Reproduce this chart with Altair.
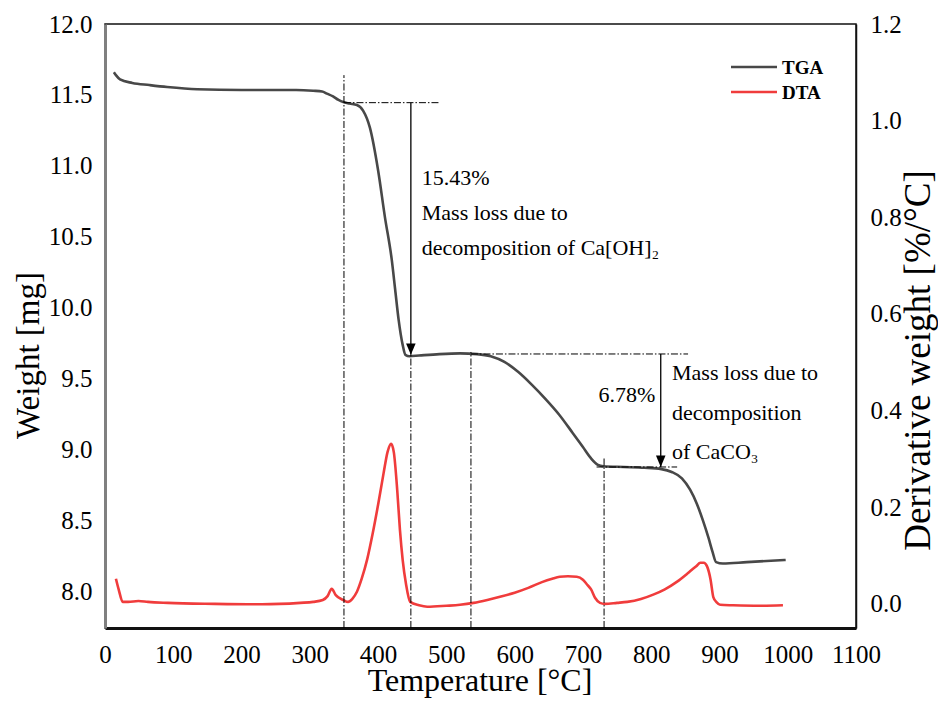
import altair as alt
import pandas as pd

# ---------------- data ----------------
tga_T = [13, 16, 22, 40, 65, 91, 135, 200, 237, 280, 305, 318, 325, 334, 342, 349, 358, 369,
         378, 388, 400, 410, 420, 425, 430, 436, 440, 446, 460, 490, 520, 545, 565, 585, 605,
         625, 645, 665, 685, 700, 712, 722, 730, 760, 790, 815, 830, 845, 857, 867, 876, 884,
         890, 895, 905, 940, 997]
tga_W = [11.66, 11.64, 11.61, 11.585, 11.57, 11.556, 11.54, 11.535, 11.535, 11.535, 11.53,
         11.525, 11.51, 11.49, 11.465, 11.45, 11.44, 11.43, 11.39, 11.27, 10.97, 10.64, 10.34,
         10.13, 9.92, 9.74, 9.67, 9.66, 9.665, 9.675, 9.68, 9.675, 9.66, 9.62, 9.55, 9.46, 9.36,
         9.25, 9.12, 9.02, 8.94, 8.895, 8.885, 8.88, 8.875, 8.865, 8.845, 8.8, 8.72, 8.62, 8.5,
         8.38, 8.28, 8.21, 8.2, 8.21, 8.225]

dta_T = [16, 20, 26, 34, 49, 63, 92, 161, 230, 286, 305, 319, 326, 332, 338, 349, 356, 362,
         369, 376, 384, 392, 400, 408, 414, 419, 423, 428, 432, 436, 441, 447, 460, 472, 500,
         520, 540, 560, 580, 600, 620, 640, 655, 666, 678, 691, 700, 706, 712, 718, 725, 732,
         750, 765, 785, 803, 820, 838, 855, 866, 872, 877, 882, 887, 891, 896, 901, 920, 959, 993]
dta_D = [0.052, 0.03, 0.004, 0.004, 0.006, 0.004, 0.002, 0.0, -0.001, 0.002, 0.004, 0.008,
         0.016, 0.031, 0.018, 0.008, 0.004, 0.01, 0.025, 0.052, 0.092, 0.145, 0.205, 0.27, 0.315,
         0.331, 0.314, 0.236, 0.153, 0.091, 0.04, 0.004, -0.003, -0.006, -0.004, -0.002, 0.002,
         0.008, 0.015, 0.023, 0.033, 0.045, 0.052, 0.056, 0.057, 0.056, 0.05, 0.04, 0.03, 0.012,
         0.002, 0.0, 0.002, 0.004, 0.01, 0.019, 0.03, 0.046, 0.065, 0.078, 0.085, 0.085, 0.077,
         0.05, 0.014, 0.003, -0.002, -0.003, -0.004, -0.003]

# dash-dot guide segments (temperature / weight units)
W_MIN, W_MAX = 7.746, 12.0
D_MIN, D_MAX = -0.05, 1.2
guide_x1 = [350, 350, 448, 536, 536, 720, 731]
guide_x2 = [350, 491, 448, 536, 854, 838, 731]
guide_y1 = [W_MIN, 11.446, W_MIN, W_MIN, 9.676, 8.88, W_MIN]
guide_y2 = [11.64, 11.446, 9.67, 9.69, 9.676, 8.88, 8.95]

# arrows
arrow_T = [448, 814]
arrow_top = [11.446, 9.676]
arrow_tip = [9.67, 8.88]

# annotation texts
left_text = ["15.43%", "Mass loss due to", "decomposition of Ca[OH]\u2082",
             "Mass loss due to", "decomposition", "of CaCO\u2083"]
left_T = [464, 464, 464, 830.5, 830.5, 830.5]
left_W = [10.915, 10.67, 10.42, 9.542, 9.26, 8.986]
right_text = ["6.78%"]
right_T = [806]
right_W = [9.387]

x_ticks = [0, 100, 200, 300, 400, 500, 600, 700, 800, 900, 1000, 1100]
wL_ticks = [8.0, 8.5, 9.0, 9.5, 10.0, 10.5, 11.0, 11.5, 12.0]
d_ticks = [0.0, 0.2, 0.4, 0.6, 0.8, 1.0, 1.2]

series = ["TGA", "DTA"]
series_colors = ["#484848", "#f03c3c"]

FONT = "Liberation Serif"

tga_df = pd.DataFrame({"T": tga_T, "W": tga_W})
dta_df = pd.DataFrame({"T": dta_T, "D": dta_D})
guide_df = pd.DataFrame({"x1": guide_x1, "x2": guide_x2, "y1": guide_y1, "y2": guide_y2})
arrow_df = pd.DataFrame({"T": arrow_T, "top": arrow_top, "tip": arrow_tip})
ltext_df = pd.DataFrame({"T": left_T, "W": left_W, "txt": left_text})
rtext_df = pd.DataFrame({"T": right_T, "W": right_W, "txt": right_text})

W_PLOT, H_PLOT = 751, 604

x_scale = alt.Scale(domain=[0, 1100], nice=False, zero=False)
x_axis = alt.Axis(values=x_ticks, format="d", labelOverlap=False, labelFlush=False,
                  ticks=False, grid=False,
                  labelFont=FONT, labelFontSize=25, labelColor="black", labelPadding=14,
                  domainColor="#111111", domainWidth=3,
                  title="Temperature [\u00b0C]", titleFont=FONT, titleFontSize=32,
                  titleFontWeight="normal", titleColor="black",
                  titleX=W_PLOT / 2 - 1, titleY=52, titleBaseline="middle", titleAlign="center")
wL_scale = alt.Scale(domain=[W_MIN, W_MAX], nice=False, zero=False)
wL_axis = alt.Axis(orient="left", values=wL_ticks, format=".1f", labelOverlap=False,
                   labelFlush=False, ticks=False, grid=False, labelFont=FONT, labelFontSize=25,
                   labelColor="black", labelPadding=13,
                   domainColor="#808080", domainWidth=3,
                   title="Weight [mg]", titleFont=FONT, titleFontSize=33,
                   titleFontWeight="normal", titleColor="black",
                   titleX=-77, titleY=331, titleAngle=270,
                   titleBaseline="middle", titleAlign="center")
d_scale = alt.Scale(domain=[D_MIN, D_MAX], nice=False, zero=False)
d_axis = alt.Axis(orient="right", values=d_ticks, format=".1f", labelOverlap=False,
                  labelFlush=False, ticks=False, grid=False, labelFont=FONT, labelFontSize=25,
                  labelColor="black", labelPadding=14,
                  domainColor="#111111", domainWidth=1.5,
                  title="Derivative weight [%/\u00b0C]", titleFont=FONT, titleFontSize=37,
                  titleFontWeight="normal", titleColor="black",
                  titleX=62, titleY=336, titleAngle=270,
                  titleBaseline="middle", titleAlign="center")


def X(field):
    # every layer carries the same axis so that the shared x axis merges into one
    return alt.X(field, type="quantitative", scale=x_scale, axis=x_axis)


def YN(field):
    return alt.Y(field, type="quantitative", scale=wL_scale, axis=None)


tga = alt.Chart(tga_df).mark_line(color=series_colors[0], strokeWidth=2.6,
                                  interpolate="monotone").encode(
    x=X("T"), y=alt.Y("W", type="quantitative", scale=wL_scale, axis=wL_axis))

dta = alt.Chart(dta_df).mark_line(color=series_colors[1], strokeWidth=2.6,
                                  interpolate="monotone").encode(
    x=X("T"), y=alt.Y("D", type="quantitative", scale=d_scale, axis=d_axis))

guides = alt.Chart(guide_df).mark_rule(color="black", strokeWidth=1,
                                       strokeDash=[7, 2, 1.5, 2]).encode(
    x=X("x1"), x2="x2", y=YN("y1"), y2="y2")

arrows = alt.Chart(arrow_df).mark_rule(color="black", strokeWidth=1.3).encode(
    x=X("T"), y=YN("top"), y2="tip")

heads = alt.Chart(arrow_df).mark_point(shape="M-0.42,-1L0.42,-1L0,0Z", size=520, filled=True,
                                       color="black", opacity=1).encode(
    x=X("T"), y=YN("tip"))

ltext = alt.Chart(ltext_df).mark_text(align="left", baseline="middle", font=FONT,
                                      fontSize=22, color="black").encode(
    x=X("T"), y=YN("W"), text="txt")

rtext = alt.Chart(rtext_df).mark_text(align="right", baseline="middle", font=FONT,
                                      fontSize=22, color="black").encode(
    x=X("T"), y=YN("W"), text="txt")

# legend (drawn manually, top-right inside the plot)
leg_layers = []
for i, (name, col) in enumerate(zip(series, series_colors)):
    one = pd.DataFrame({"name": [name]})
    yy = 43 + i * 25
    leg_layers.append(alt.Chart(one).mark_rule(color=col, strokeWidth=2.6).encode(
        x=alt.value(626), x2=alt.value(672), y=alt.value(yy)))
    leg_layers.append(alt.Chart(one).mark_text(align="left", baseline="middle", font=FONT,
                                               fontSize=19, fontWeight="bold",
                                               color="black").encode(
        x=alt.value(677), y=alt.value(yy + 1), text="name:N"))

chart = alt.layer(tga, dta, guides, arrows, heads, ltext, rtext, *leg_layers).resolve_scale(
    y="independent").properties(
    width=W_PLOT, height=H_PLOT,
    padding={"left": 97, "top": 16, "right": 82, "bottom": 70},
    autosize=alt.AutoSizeParams(type="none"),
    background="white",
).configure(font=FONT).configure_axis(
    labelFont=FONT, titleFont=FONT
).configure_text(font=FONT).configure_view(stroke="#111111", strokeWidth=1.5)

chart.save("out.html", embed_options={"renderer": "svg", "actions": False})
